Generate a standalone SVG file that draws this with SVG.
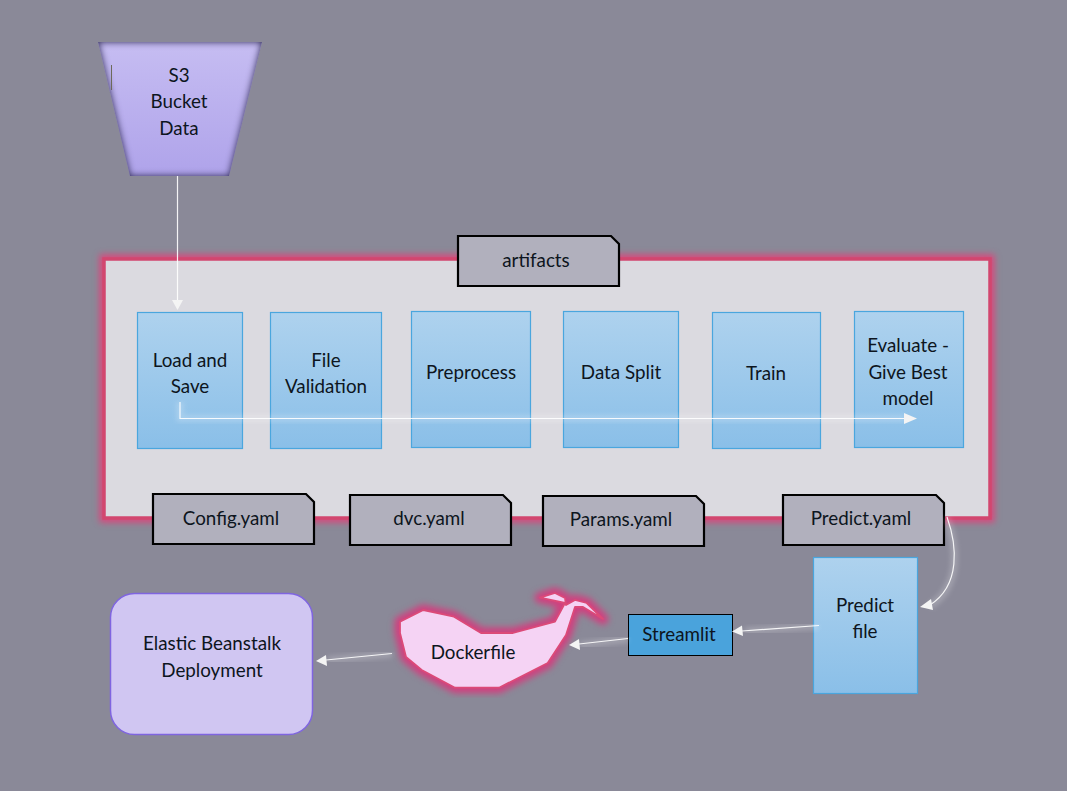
<svg xmlns="http://www.w3.org/2000/svg" width="1067" height="791" viewBox="0 0 1067 791">
<style>
text{font-family:"Lato","Liberation Sans",sans-serif;font-size:18.8px;fill:#0d1520;text-anchor:middle}
.box{fill:url(#blue);stroke:#4aa6de;stroke-width:1.2}
.note{fill:#b1b0bd;stroke:#000;stroke-width:2.2}
.wire{fill:none;stroke:#fff;stroke-width:1.2;opacity:.9}
.glow{fill:none;stroke:#fff;stroke-width:7;opacity:.2;filter:url(#soft)}
.head{fill:#f4f4f4;stroke:none}
</style>
<defs>
<linearGradient id="blue" x1="0" y1="0" x2="0" y2="1"><stop offset="0" stop-color="#aed2ee"/><stop offset="1" stop-color="#8abfe8"/></linearGradient>
<linearGradient id="purple" x1="0" y1="0" x2="0" y2="1"><stop offset="0" stop-color="#c6bdf2"/><stop offset="1" stop-color="#afa3ea"/></linearGradient>
<filter id="soft" x="-30%" y="-30%" width="160%" height="160%"><feGaussianBlur stdDeviation="2.500"/></filter>
<filter id="pinkglow" x="-10%" y="-10%" width="120%" height="120%" color-interpolation-filters="sRGB"><feGaussianBlur stdDeviation="3"/></filter>
<filter id="inner" x="-5%" y="-5%" width="110%" height="110%" color-interpolation-filters="sRGB">
<feGaussianBlur in="SourceAlpha" stdDeviation="3.500" result="b"/>
<feComposite in="SourceAlpha" in2="b" operator="out" result="edge"/>
<feFlood flood-color="#2f2a55" flood-opacity="1" result="f"/>
<feComposite in="f" in2="edge" operator="in" result="shade"/>
<feMerge><feMergeNode in="SourceGraphic"/><feMergeNode in="shade"/></feMerge>
</filter>
</defs>
<rect width="1067" height="791" fill="#8a8998"/>

<g id="pipeline">
<rect x="104" y="259" width="886" height="259" fill="none" stroke="#d9477c" stroke-width="9" filter="url(#pinkglow)"/>
<rect x="104" y="259" width="886" height="259" fill="#dbdae0" stroke="#d2466f" stroke-width="3.500"/>
</g>

<g id="s3">
<path d="M98 42H262L229 176H130Z" fill="url(#purple)" filter="url(#inner)"/>
<path d="M111.500 65V90" stroke="#6d6a5a" stroke-width="1" fill="none"/>
<text x="179" y="81.500">S3</text><text x="179" y="107.500">Bucket</text><text x="179" y="134.500">Data</text>
</g>

<g id="artifacts"><path class="note" d="M458 236H611L619 244V286H458Z"/><text x="536" y="267">artifacts</text></g>

<g id="load"><rect class="box" x="137.500" y="312.500" width="105" height="136"/><text x="190" y="366.500">Load and</text><text x="190" y="392.500">Save</text></g>
<g id="validation"><rect class="box" x="270.500" y="312.500" width="111" height="136"/><text x="326" y="366.500">File</text><text x="326" y="392.500">Validation</text></g>
<g id="preprocess"><rect class="box" x="411.500" y="311.500" width="119" height="136"/><text x="471" y="378.500">Preprocess</text></g>
<g id="split"><rect class="box" x="563.500" y="311.500" width="115" height="136"/><text x="621" y="378.500">Data Split</text></g>
<g id="train"><rect class="box" x="712.500" y="312.500" width="108" height="136"/><text x="766" y="379.500">Train</text></g>
<g id="evaluate"><rect class="box" x="854.500" y="311.500" width="109" height="136"/><text x="908" y="351.500">Evaluate -</text><text x="908" y="378.500">Give Best</text><text x="908" y="404.500">model</text></g>

<g id="config"><path class="note" d="M153 494H306L314 502V544H153Z"/><text x="231" y="525">Config.yaml</text></g>
<g id="dvc"><path class="note" d="M350 495H503L511 503V545H350Z"/><text x="429" y="525">dvc.yaml</text></g>
<g id="params"><path class="note" d="M543 496H696L704 504V546H543Z"/><text x="621" y="526">Params.yaml</text></g>
<g id="predictyaml"><path class="note" d="M783 495H936L944 503V545H783Z"/><text x="861" y="525">Predict.yaml</text></g>

<g id="predictfile"><rect class="box" x="813.500" y="557.500" width="104" height="136"/><text x="865" y="611.500">Predict</text><text x="865" y="637.500">file</text></g>
<g id="streamlit"><rect x="628.500" y="614.500" width="104" height="41" fill="#4aa3dc" stroke="#000" stroke-width="1"/><text x="679" y="640.500">Streamlit</text></g>

<g id="dockerfile">
<path d="M400 621.700L423.300 610L454 616.700L481 633L513 633L555 621.700L565 603L540 597.700L555 593L565 598L566 605L575 600L586.700 603L603 619L583 607L575 607L566 635L547.700 663L499 687.700L455 687.700L421.700 670L406 657L400 633Z" fill="none" stroke="#d0407f" stroke-width="11" stroke-linejoin="round" filter="url(#pinkglow)"/>
<path d="M400 621.700L423.300 610L454 616.700L481 633L513 633L555 621.700L565 603L540 597.700L555 593L565 598L566 605L575 600L586.700 603L603 619L583 607L575 607L566 635L547.700 663L499 687.700L455 687.700L421.700 670L406 657L400 633Z" fill="#f5d3f4" stroke="#dc4a78" stroke-width="1.800" stroke-linejoin="round"/>
<text x="473" y="658.500">Dockerfile</text>
</g>

<g id="beanstalk"><rect x="110.500" y="593.500" width="202" height="141" rx="24" fill="#d0c6f2" stroke="#7f65e0" stroke-width="1.500"/><text x="212" y="649.500">Elastic Beanstalk</text><text x="212" y="676.500">Deployment</text></g>

<g id="connectors">
<path class="glow" d="M177.500 176V300" style="stroke-width:10;opacity:.3"/>
<path class="glow" d="M180 402V418.500H905"/>
<path class="glow" d="M946 517C957 545 962 585 930 606"/>
<path class="glow" d="M818 626L745 631"/>
<path class="glow" d="M628 639L580 645"/>
<path class="glow" d="M392 654L328 660"/>
<path class="wire" d="M177.500 176V301"/><path class="head" d="M172 300H183L177.500 310Z"/>
<path class="wire" d="M180 402V418.500H905"/><path class="head" d="M904 413L917 418.500L904 424Z"/>
<path class="wire" d="M947 517C957 545 961 585 930 605"/><path class="head" d="M920 607L931 599L933 610Z"/>
<path class="wire" d="M819 625.500L742 631"/><path class="head" d="M732 631.500L742 625.500L743 636Z"/>
<path class="wire" d="M628 638.500L579 644"/><path class="head" d="M569 645L579 639L580 650Z"/>
<path class="wire" d="M392 653.500L326 660"/><path class="head" d="M316 661L326 655L327 666Z"/>
</g>
</svg>
